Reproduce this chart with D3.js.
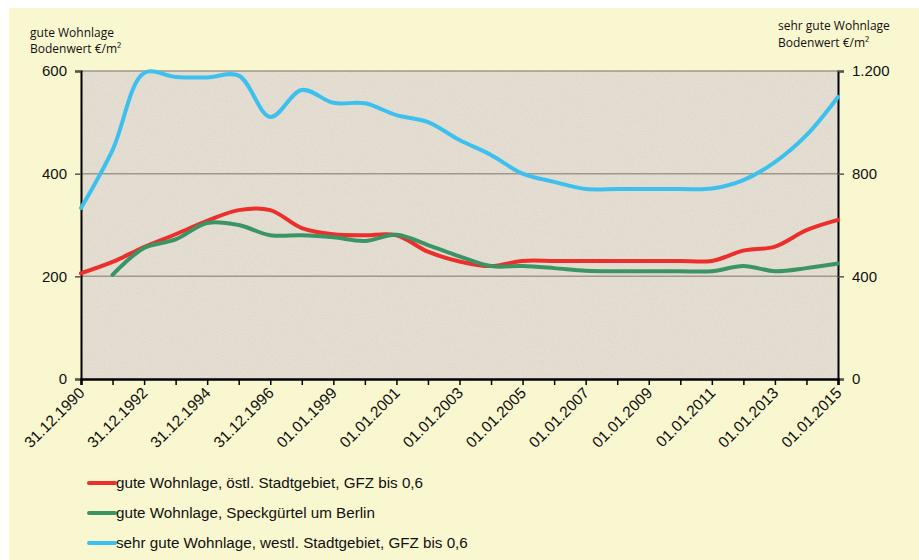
<!DOCTYPE html>
<html>
<head>
<meta charset="utf-8">
<script src="https://cdn.jsdelivr.net/npm/d3@7"></script>
<style>
  body { margin: 0; background: #fff; }
  svg { display: block; }
</style>
</head>
<body>
<svg id="chart"></svg>
<script>
// categories (x axis)
var dates = [
  "31.12.1990", "31.12.1991", "31.12.1992", "31.12.1993", "31.12.1994",
  "31.12.1995", "31.12.1996", "31.12.1997", "01.01.1999", "01.01.2000",
  "01.01.2001", "01.01.2002", "01.01.2003", "01.01.2004", "01.01.2005",
  "01.01.2006", "01.01.2007", "01.01.2008", "01.01.2009", "01.01.2010",
  "01.01.2011", "01.01.2012", "01.01.2013", "01.01.2014", "01.01.2015"
];

// left axis series
var ostl = [206, 228, 257, 282, 308, 329, 329, 294, 282, 280,
            280, 248, 229, 220, 230, 230, 230, 230, 230, 230,
            230, 250, 258, 290, 310];
var speck = [null, 203, 255, 272, 304, 300, 280, 280, 276, 269,
             281, 261, 239, 220, 220, 216, 211, 210, 210, 210,
             210, 220, 210, 216, 225];
// right axis series
var westl = [666, 892, 1192, 1177, 1175, 1182, 1021, 1126, 1076, 1074,
             1028, 1001, 931, 873, 800, 768, 740, 740, 740, 740,
             742, 775, 845, 950, 1099];

var leftTicks = [0, 200, 400, 600];
var rightTicks = [0, 400, 800, 1200];

var series = [
  { name: "gute Wohnlage, östl. Stadtgebiet, GFZ bis 0,6", values: ostl, axis: "left", color: "#ec2f2a" },
  { name: "gute Wohnlage, Speckgürtel um Berlin", values: speck, axis: "left", color: "#3a9464" },
  { name: "sehr gute Wohnlage, westl. Stadtgebiet, GFZ bis 0,6", values: westl, axis: "right", color: "#3ec0ee" }
];

var W = 919, H = 560;
var plot = { left: 81, right: 838, top: 71, bottom: 379 };

var svg = d3.select('#chart')
  .attr('width', W)
  .attr('height', H);

var defs = svg.append('defs');
var filter = defs.append('filter').attr('id', 'stone')
  .attr('x', 0).attr('y', 0).attr('width', '100%').attr('height', '100%');
filter.append('feTurbulence')
  .attr('type', 'fractalNoise')
  .attr('baseFrequency', 0.9)
  .attr('numOctaves', 2)
  .attr('seed', 3)
  .attr('result', 'noise');
filter.append('feColorMatrix')
  .attr('in', 'noise')
  .attr('type', 'matrix')
  .attr('values', '0 0 0 0 0.55  0 0 0 0 0.5  0 0 0 0 0.44  0 0 0 -1.6 1.0')
  .attr('result', 'dots');
filter.append('feComposite').attr('in', 'dots').attr('in2', 'SourceGraphic').attr('operator', 'in');

svg.append('rect')
  .attr('x', 9).attr('y', 8)
  .attr('width', W - 9).attr('height', H - 8)
  .attr('fill', '#f9f7cf');

svg.append('rect')
  .attr('x', plot.left).attr('y', plot.top)
  .attr('width', plot.right - plot.left).attr('height', plot.bottom - plot.top)
  .attr('fill', '#e4ded3');
svg.append('rect')
  .attr('x', plot.left).attr('y', plot.top)
  .attr('width', plot.right - plot.left).attr('height', plot.bottom - plot.top)
  .attr('fill', '#e4ded3')
  .attr('opacity', 0.3)
  .attr('filter', 'url(#stone)');

var x = d3.scalePoint()
  .domain(dates)
  .range([plot.left, plot.right]);

var yL = d3.scaleLinear().domain([0, 600]).range([plot.bottom, plot.top]);
var yR = d3.scaleLinear().domain([0, 1200]).range([plot.bottom, plot.top]);

// gridlines
svg.append('g')
  .selectAll('line')
  .data(leftTicks.filter(d => d > 0))
  .enter()
  .append('line')
  .attr('x1', plot.left).attr('x2', plot.right)
  .attr('y1', d => yL(d)).attr('y2', d => yL(d))
  .attr('stroke', '#9e978b')
  .attr('stroke-width', 1.5);

var fontAxis = "'Liberation Sans', Arial, sans-serif";

// left axis
var leftAxis = svg.append('g')
  .attr('transform', `translate(${plot.left},0)`)
  .call(d3.axisLeft(yL).tickValues(leftTicks).tickSize(6).tickPadding(8).tickFormat(d3.format('d')));
leftAxis.select('.domain').attr('stroke', '#000').attr('stroke-width', 2);
leftAxis.selectAll('.tick line').attr('stroke', '#555').attr('stroke-width', 1.5);
leftAxis.selectAll('text').attr('font-family', fontAxis).attr('font-size', 15).attr('fill', '#111');

// right axis
var fmtR = d => d === 0 ? "0" : d3.format(',')(d).replace(',', '.');
var rightAxis = svg.append('g')
  .attr('transform', `translate(${plot.right},0)`)
  .call(d3.axisRight(yR).tickValues(rightTicks).tickSize(6).tickPadding(8).tickFormat(fmtR));
rightAxis.select('.domain').attr('stroke', '#000').attr('stroke-width', 2);
rightAxis.selectAll('.tick line').attr('stroke', '#555').attr('stroke-width', 1.5);
rightAxis.selectAll('text').attr('font-family', fontAxis).attr('font-size', 15).attr('fill', '#111');

// bottom axis
var bottomAxis = svg.append('g')
  .attr('transform', `translate(0,${plot.bottom})`)
  .call(d3.axisBottom(x).tickSize(6).tickFormat((d, i) => i % 2 === 0 ? d : ''));
bottomAxis.select('.domain').attr('stroke', '#000').attr('stroke-width', 2.5);
bottomAxis.selectAll('.tick line').attr('stroke', '#000').attr('stroke-width', 1.5);
bottomAxis.selectAll('text')
  .attr('font-family', fontAxis)
  .attr('font-size', 15.5)
  .attr('fill', '#111')
  .attr('text-anchor', 'end')
  .attr('dy', 0)
  .attr('y', 0)
  .attr('transform', 'translate(4,15) rotate(-45)');

// lines
var g = svg.append('g');
series.forEach(function(s) {
  var y = s.axis === 'left' ? yL : yR;
  var line = d3.line()
    .defined(d => d != null)
    .x((d, i) => x(dates[i]))
    .y(d => y(d))
    .curve(d3.curveCatmullRom.alpha(0.5));
  g.append('path')
    .datum(s.values)
    .attr('d', line)
    .attr('fill', 'none')
    .attr('stroke', s.color)
    .attr('stroke-width', 4)
    .attr('stroke-linejoin', 'round')
    .attr('stroke-linecap', 'round');
});

// axis titles
var fontTitle = "'Open Sans', 'DejaVu Sans', sans-serif";
svg.append('text').attr('x', 30).attr('y', 37)
  .attr('font-family', fontTitle).attr('font-size', 12).attr('fill', '#111')
  .text('gute Wohnlage');
svg.append('text').attr('x', 30).attr('y', 53)
  .attr('font-family', fontTitle).attr('font-size', 12).attr('fill', '#111')
  .text('Bodenwert €/m²');
svg.append('text').attr('x', 778).attr('y', 30)
  .attr('font-family', fontTitle).attr('font-size', 12).attr('fill', '#111')
  .text('sehr gute Wohnlage');
svg.append('text').attr('x', 778).attr('y', 47)
  .attr('font-family', fontTitle).attr('font-size', 12).attr('fill', '#111')
  .text('Bodenwert €/m²');

// legend
var legend = svg.append('g')
  .selectAll('g')
  .data(series)
  .enter()
  .append('g')
  .attr('transform', (d, i) => `translate(89,${483 + i * 30})`);
legend.append('line')
  .attr('x1', 0).attr('x2', 26)
  .attr('stroke', d => d.color)
  .attr('stroke-width', 4)
  .attr('stroke-linecap', 'round');
legend.append('text')
  .attr('x', 27)
  .attr('dy', '0.36em')
  .attr('font-family', fontAxis)
  .attr('font-size', 15.2)
  .attr('fill', '#111')
  .text(d => d.name);
</script>
</body>
</html>
